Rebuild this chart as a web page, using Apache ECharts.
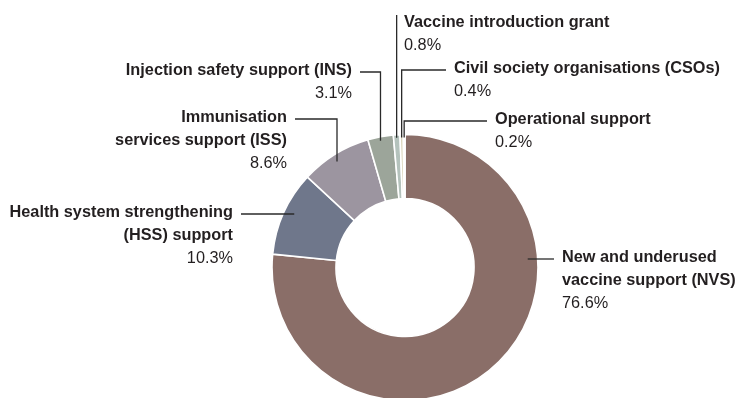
<!DOCTYPE html>
<html>
<head>
<meta charset="utf-8">
<script src="https://cdn.jsdelivr.net/npm/echarts@6/dist/echarts.min.js"></script>
<style>
  html, body { margin: 0; padding: 0; background: #fff; }
  #chart { width: 736px; height: 398px; }
</style>
</head>
<body>
<div id="chart"></div>
<script>
// Share of disbursements by support type (%)
const categories = [
  'New and underused\nvaccine support (NVS)',
  'Health system strengthening\n(HSS) support',
  'Immunisation\nservices support (ISS)',
  'Injection safety support (INS)',
  'Vaccine introduction grant',
  'Civil society organisations (CSOs)',
  'Operational support'
];
const shares = [76.6, 10.3, 8.6, 3.1, 0.8, 0.4, 0.2];
const sliceColors = ['#8a6e68', '#6f778b', '#9c95a0', '#9ca59a', '#b4c2bc', '#dcd7bd', '#efece3'];

// Ring geometry
const CX = 405, CY = 267.5, R_IN = 69, R_OUT = 133;
const LINE_H = 23;
const FONT = '"Liberation Sans", Arial, sans-serif';

// Label placement: x = text edge, y = middle of first text line
const placement = [
  { x: 562, y: 258, side: 'right', kind: 'h' },
  { x: 233, y: 213, side: 'left', kind: 'h' },
  { x: 287, y: 118, side: 'left', kind: 'elbow', elbowX: 337, inset: 7 },
  { x: 352, y: 71, side: 'left', kind: 'elbow', inset: 4 },
  { x: 404, y: 22.5, side: 'right', kind: 'vertical', inset: 3 },
  { x: 454, y: 69, side: 'right', kind: 'elbow', inset: 3 },
  { x: 495, y: 120, side: 'right', kind: 'elbow', inset: 3 }
];

const pieData = categories.map((name, i) => ({ name: name, value: shares[i] }));

function leaderLayout(params) {
  const p = placement[params.dataIndex];
  const gap = 8;
  const lineY = p.y + 1;
  const startX = p.side === 'left' ? p.x + gap : p.x - gap;
  const anchor = params.labelLinePoints ? params.labelLinePoints[0] : [CX, CY - R_OUT];
  let pts;
  if (p.kind === 'h') {
    const r = R_OUT - 10;
    const dx = Math.sqrt(r * r - (lineY - CY) * (lineY - CY));
    const endX = p.side === 'left' ? CX - dx : CX + dx;
    pts = [[endX, lineY], [(endX + startX) / 2, lineY], [startX, lineY]];
  } else {
    const ex = p.elbowX != null ? p.elbowX : anchor[0];
    const r = R_OUT - p.inset;
    const ringY = CY - Math.sqrt(r * r - (ex - CX) * (ex - CX));
    if (p.kind === 'vertical') {
      const topY = p.y - 7.5;
      pts = [[ex, ringY], [ex, topY], [ex, topY]];
    } else {
      pts = [[ex, ringY], [ex, lineY], [startX, lineY]];
    }
  }
  return {
    x: p.x,
    y: p.y - LINE_H / 2,
    align: p.side === 'left' ? 'right' : 'left',
    verticalAlign: 'top',
    labelLinePoints: pts
  };
}

const chart = echarts.init(document.getElementById('chart'), null, { renderer: 'canvas' });

const ringBase = {
  type: 'pie',
  center: [CX, CY],
  radius: [R_IN, R_OUT],
  startAngle: 90,
  clockwise: true,
  avoidLabelOverlap: false,
  silent: true
};

chart.setOption({
  backgroundColor: '#ffffff',
  animation: false,
  series: [
    // coloured ring
    Object.assign({}, ringBase, {
      z: 2,
      data: pieData.map((d, i) => ({ name: d.name, value: d.value, itemStyle: { color: sliceColors[i] } })),
      itemStyle: { borderColor: '#ffffff', borderWidth: 1.6 },
      label: { show: false },
      labelLine: { show: false }
    }),
    // transparent twin carrying the labels so leader lines sit on top of the ring
    Object.assign({}, ringBase, {
      z: 3,
      data: pieData,
      itemStyle: { color: 'rgba(0,0,0,0)', borderWidth: 0 },
      label: {
        show: true,
        position: 'outside',
        formatter: p => '{n|' + p.name + '}\n{v|' + p.value.toFixed(1) + '%}',
        rich: {
          n: { fontFamily: FONT, fontWeight: 'bold', fontSize: 16.3, lineHeight: LINE_H, color: '#231f20' },
          v: { fontFamily: FONT, fontWeight: 'normal', fontSize: 16.3, lineHeight: LINE_H, color: '#231f20' }
        }
      },
      labelLine: {
        show: true,
        length: 10,
        length2: 10,
        lineStyle: { color: '#2a2a2a', width: 1.3 }
      },
      labelLayout: leaderLayout
    })
  ]
});
</script>
</body>
</html>
